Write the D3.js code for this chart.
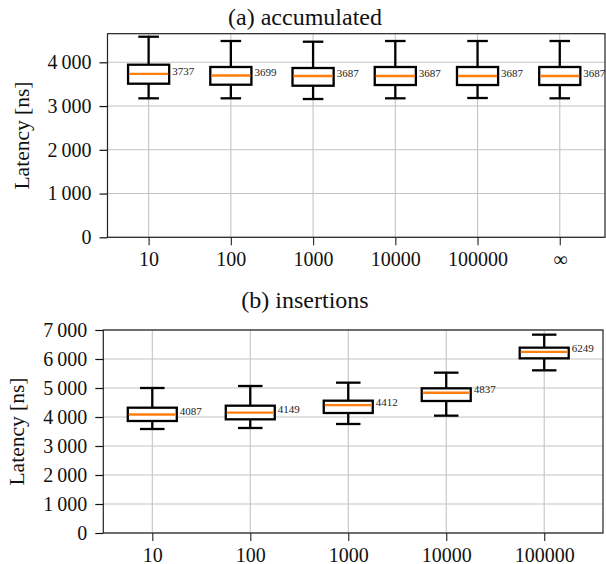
<!DOCTYPE html>
<html><head><meta charset="utf-8"><script src="https://cdn.jsdelivr.net/npm/d3@7"></script>
<style>
@font-face { font-family: "ChartSerif"; src: local("Liberation Serif"), local("LiberationSerif"), local("LiberationSerif-Regular"); }
</style>
</head>
<body style="margin:0">
<svg id="chart" width="606" height="564" font-family="Liberation Serif"></svg>
<script>
// ---- Data ----
const topTitle = "(a) accumulated";
const topCategories = ["10", "100", "1000", "10000", "100000", "\u221E"];
const topWhiskerLow = [3177, 3177, 3161, 3177, 3184, 3177];
const topQ1 = [3511, 3488, 3465, 3481, 3481, 3481];
const topMedian = [3737, 3699, 3687, 3687, 3687, 3687];
const topQ3 = [3945, 3893, 3870, 3893, 3893, 3893];
const topWhiskerHigh = [4585, 4487, 4471, 4487, 4487, 4487];
const topYTicks = [0, 1000, 2000, 3000, 4000];

const botTitle = "(b) insertions";
const botCategories = ["10", "100", "1000", "10000", "100000"];
const botWhiskerLow = [3586, 3621, 3759, 4046, 5609];
const botQ1 = [3862, 3920, 4138, 4552, 6023];
const botMedian = [4087, 4149, 4412, 4837, 6249];
const botQ3 = [4321, 4390, 4563, 4989, 6391];
const botWhiskerHigh = [5000, 5069, 5184, 5529, 6839];
const botYTicks = [0, 1000, 2000, 3000, 4000, 5000, 6000, 7000];

const yLabel = "Latency [ns]";

const FONT = '"Liberation Serif", "ChartSerif", monospace';
const svg = d3.select("#chart");
const fmt = v => d3.format(",")(v).replace(/,/g, "\u2009");

function drawPanel(cfg) {
  const g = svg.append("g");
  const x = d3.scaleLinear().domain(cfg.xDomain).range([cfg.left, cfg.right]);
  const y = d3.scaleLinear().domain(cfg.yDomain).range([cfg.bottom, cfg.top]);
  const unit = x(2) - x(1);
  const pos = d3.range(1, cfg.cats.length + 1);

  // grid
  g.append("g").selectAll("line").data(cfg.yTicks).join("line")
    .attr("x1", cfg.left).attr("x2", cfg.right)
    .attr("y1", d => y(d)).attr("y2", d => y(d))
    .attr("stroke", "#c4c4c4").attr("stroke-width", 1.1);
  g.append("g").selectAll("line").data(pos).join("line")
    .attr("x1", d => x(d)).attr("x2", d => x(d))
    .attr("y1", cfg.top).attr("y2", cfg.bottom)
    .attr("stroke", "#c4c4c4").attr("stroke-width", 1.1);

  // y axis
  const yAxis = d3.axisLeft(y).tickValues(cfg.yTicks).tickFormat(fmt).tickSize(8).tickPadding(8);
  const ya = g.append("g").attr("transform", `translate(${cfg.left},0)`).call(yAxis)
    .attr("font-family", "Liberation Serif").attr("font-size", 20);
  ya.select(".domain").remove();
  ya.selectAll(".tick line").attr("stroke", "#111").attr("stroke-width", 1.2);
  ya.selectAll(".tick text").style("font-family", FONT).attr("font-size", 20).attr("fill", "#111");

  // x axis
  const xAxis = d3.axisBottom(x).tickValues(pos).tickFormat(d => cfg.cats[d - 1]).tickSize(8).tickPadding(6);
  const xa = g.append("g").attr("transform", `translate(0,${cfg.bottom})`).call(xAxis)
    .attr("font-family", "Liberation Serif").attr("font-size", 20);
  xa.select(".domain").remove();
  xa.selectAll(".tick line").attr("stroke", "#333").attr("stroke-width", 1.2);
  xa.selectAll(".tick text").style("font-family", FONT).attr("font-size", 20).attr("fill", "#111")
    .attr("dy", "0.76em");

  // spines
  g.append("rect").attr("x", cfg.left).attr("y", cfg.top)
    .attr("width", cfg.right - cfg.left).attr("height", cfg.bottom - cfg.top)
    .attr("fill", "none").attr("stroke", "#222").attr("stroke-width", 1.2);

  // boxes
  const boxes = g.append("g").selectAll("g").data(pos).join("g");
  const lw = 2.3;
  boxes.append("line")
    .attr("x1", d => x(d)).attr("x2", d => x(d))
    .attr("y1", d => y(cfg.high[d - 1])).attr("y2", d => y(cfg.q3[d - 1]))
    .attr("stroke", "#000").attr("stroke-width", lw);
  boxes.append("line")
    .attr("x1", d => x(d)).attr("x2", d => x(d))
    .attr("y1", d => y(cfg.q1[d - 1])).attr("y2", d => y(cfg.low[d - 1]))
    .attr("stroke", "#000").attr("stroke-width", lw);
  boxes.append("line")
    .attr("x1", d => x(d) - unit / 8).attr("x2", d => x(d) + unit / 8)
    .attr("y1", d => y(cfg.high[d - 1])).attr("y2", d => y(cfg.high[d - 1]))
    .attr("stroke", "#000").attr("stroke-width", lw);
  boxes.append("line")
    .attr("x1", d => x(d) - unit / 8).attr("x2", d => x(d) + unit / 8)
    .attr("y1", d => y(cfg.low[d - 1])).attr("y2", d => y(cfg.low[d - 1]))
    .attr("stroke", "#000").attr("stroke-width", lw);
  boxes.append("rect")
    .attr("x", d => x(d) - unit / 4).attr("width", unit / 2)
    .attr("y", d => y(cfg.q3[d - 1])).attr("height", d => y(cfg.q1[d - 1]) - y(cfg.q3[d - 1]))
    .attr("fill", "#fff").attr("stroke", "#000").attr("stroke-width", lw);
  boxes.append("line")
    .attr("x1", d => x(d) - unit / 4 + 1).attr("x2", d => x(d) + unit / 4 - 1)
    .attr("y1", d => y(cfg.med[d - 1])).attr("y2", d => y(cfg.med[d - 1]))
    .attr("stroke", "#ff7f0e").attr("stroke-width", lw);
  boxes.append("text")
    .style("font-family", FONT)
    .attr("x", d => x(d) + unit / 4 + 3)
    .attr("y", d => y(cfg.med[d - 1]) + 0.7)
    .attr("font-size", 11).attr("fill", "#222")
    .text(d => cfg.med[d - 1]);

  // title
  svg.append("text").style("font-family", FONT).attr("x", 305).attr("y", cfg.titleY)
    .attr("text-anchor", "middle").attr("font-size", 24).attr("fill", "#111").text(cfg.title);

  // y label
  svg.append("text").style("font-family", FONT)
    .attr("transform", `translate(${cfg.ylabX},${(cfg.top + cfg.bottom) / 2}) rotate(-90)`)
    .attr("text-anchor", "middle").attr("dominant-baseline", "central")
    .attr("font-size", 21.5).attr("fill", "#111").text(yLabel);
}

drawPanel({
  title: topTitle, titleY: 25, cats: topCategories,
  low: topWhiskerLow, q1: topQ1, med: topMedian, q3: topQ3, high: topWhiskerHigh,
  yTicks: topYTicks, xDomain: [0.5, 6.55], yDomain: [0, 4654],
  left: 107.5, right: 605, top: 33.7, bottom: 237.3, ylabX: 22
});

drawPanel({
  title: botTitle, titleY: 308, cats: botCategories,
  low: botWhiskerLow, q1: botQ1, med: botMedian, q3: botQ3, high: botWhiskerHigh,
  yTicks: botYTicks, xDomain: [0.5, 5.6], yDomain: [0, 7000],
  left: 103.3, right: 603, top: 330, bottom: 533, ylabX: 17
});
</script>
</body>
</html>
